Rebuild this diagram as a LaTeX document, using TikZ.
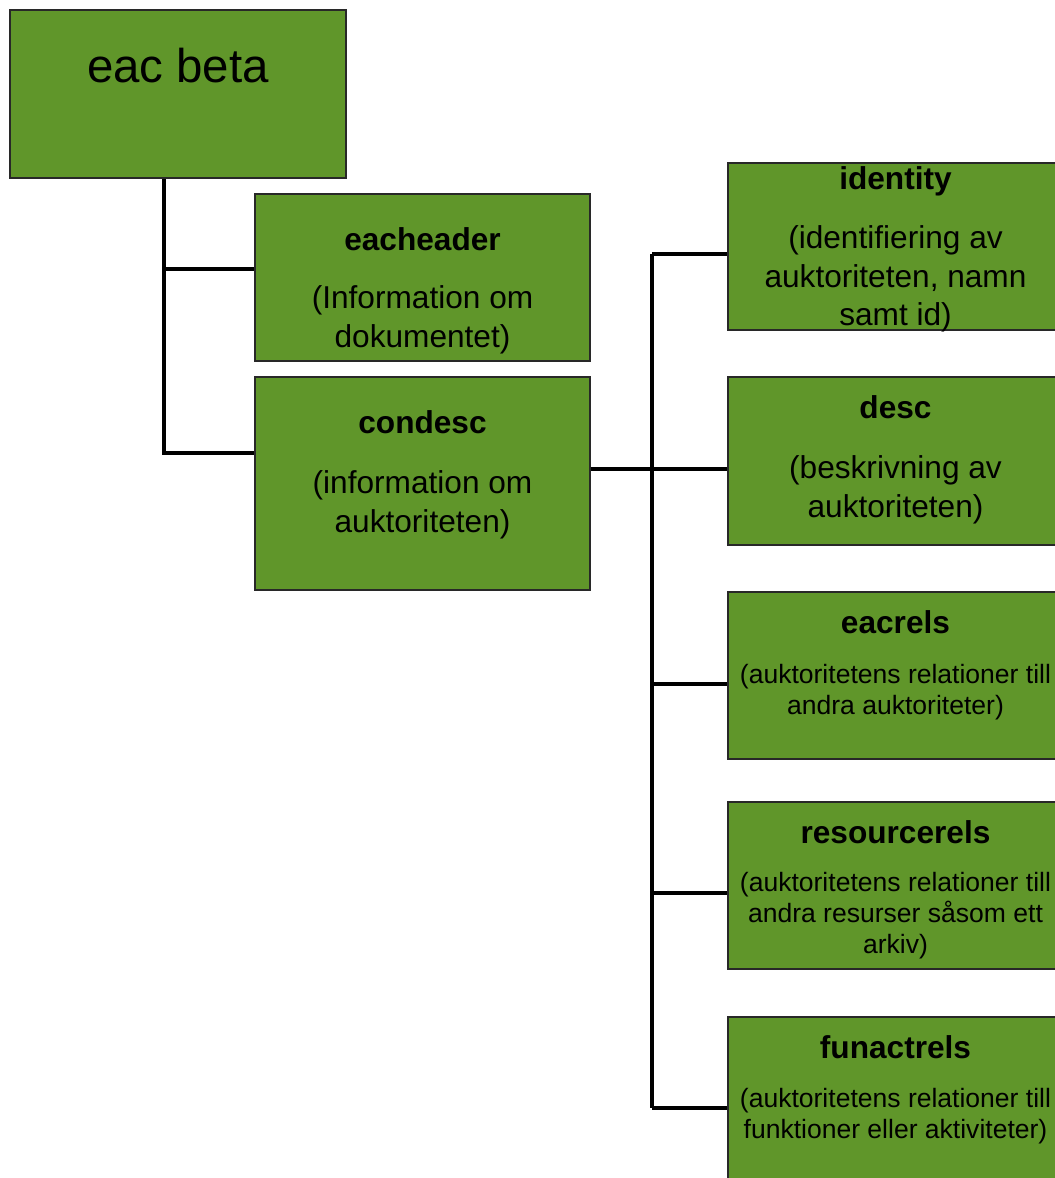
\documentclass[tikz,border=0pt]{standalone}
\usepackage{fontspec}
\setmainfont{Liberation Sans}
\usepackage{tikz}
\usetikzlibrary{positioning,fit}

\definecolor{eacgreen}{RGB}{96,150,42}
\definecolor{eacedge}{RGB}{40,40,40}

\tikzset{
    box/.style={draw=eacedge, line width=1.1pt, fill=eacgreen, inner sep=0pt},
    ttl/.style={anchor=base, inner sep=0pt, font=\fontsize{18}{22}\selectfont\bfseries},
    txt/.style={anchor=north, inner sep=0pt, align=center, font=\fontsize{18}{22.1}\selectfont},
    smalltxt/.style={anchor=north, inner sep=0pt, align=center, font=\fontsize{15.1}{17.6}\selectfont},
    conn/.style={line width=1.9pt, black}
}

\begin{document}
\begin{tikzpicture}[x=0.02cm, y=-0.02cm]
    \useasboundingbox (0,0) rectangle (1055,1178);
    \clip (0,0) rectangle (1055,1178);

    % root
    \node[box, fit={(10,10) (346,178)}] (eac) {};
    \node[anchor=base, inner sep=0pt, font=\fontsize{27}{32}\selectfont] at (178,82) {eac beta};

    % left column
    \node[box, fit={(255,194) (590,361)}] (hdr) {};
    \node[ttl] at (422.5,250) {eacheader};
    \node[txt] at (422.5,285) {(Information om\\dokumentet)};

    \node[box, fit={(255,377) (590,590)}] (cond) {};
    \node[ttl] at (422.5,433) {condesc};
    \node[txt] at (422.5,470) {(information om\\auktoriteten)};

    % right column
    \node[box, fit={(728,163) (1063,330)}] (ident) {};
    \node[ttl] at (895.5,189) {identity};
    \node[txt] at (895.5,225) {(identifiering av\\auktoriteten, namn\\samt id)};

    \node[box, fit={(728,377) (1063,545)}] (desc) {};
    \node[ttl] at (895.5,418) {desc};
    \node[txt] at (895.5,455) {(beskrivning av\\auktoriteten)};

    \node[box, fit={(728,592) (1063,759)}] (eacr) {};
    \node[ttl] at (895.5,633) {eacrels};
    \node[smalltxt] at (895.5,664) {(auktoritetens relationer till\\andra auktoriteter)};

    \node[box, fit={(728,802) (1063,969)}] (resr) {};
    \node[ttl] at (895.5,843) {resourcerels};
    \node[smalltxt] at (895.5,872) {(auktoritetens relationer till\\andra resurser såsom ett\\arkiv)};

    \node[box, fit={(728,1017) (1063,1185)}] (funr) {};
    \node[ttl] at (895.5,1058) {funactrels};
    \node[smalltxt] at (895.5,1088) {(auktoritetens relationer till\\funktioner eller aktiviteter)};

    % connectors
    \coordinate (j1) at (164,269);
    \coordinate (j2) at (164,453);
    \draw[conn] (eac.south -| j1) -- (j2) -- (cond.west |- j2);
    \draw[conn] (j1) -- (hdr.west |- j1);

    \coordinate (b1) at (652,254);
    \coordinate (b2) at (652,469);
    \coordinate (b3) at (652,684);
    \coordinate (b4) at (652,893);
    \coordinate (b5) at (652,1108);
    \draw[conn] (b1) -- (b5);
    \draw[conn] (cond.east |- b2) -- (desc.west |- b2);
    \foreach \b/\n in {b1/ident, b3/eacr, b4/resr, b5/funr}
        \draw[conn] (\b) -- (\n.west |- \b);
\end{tikzpicture}
\end{document}
